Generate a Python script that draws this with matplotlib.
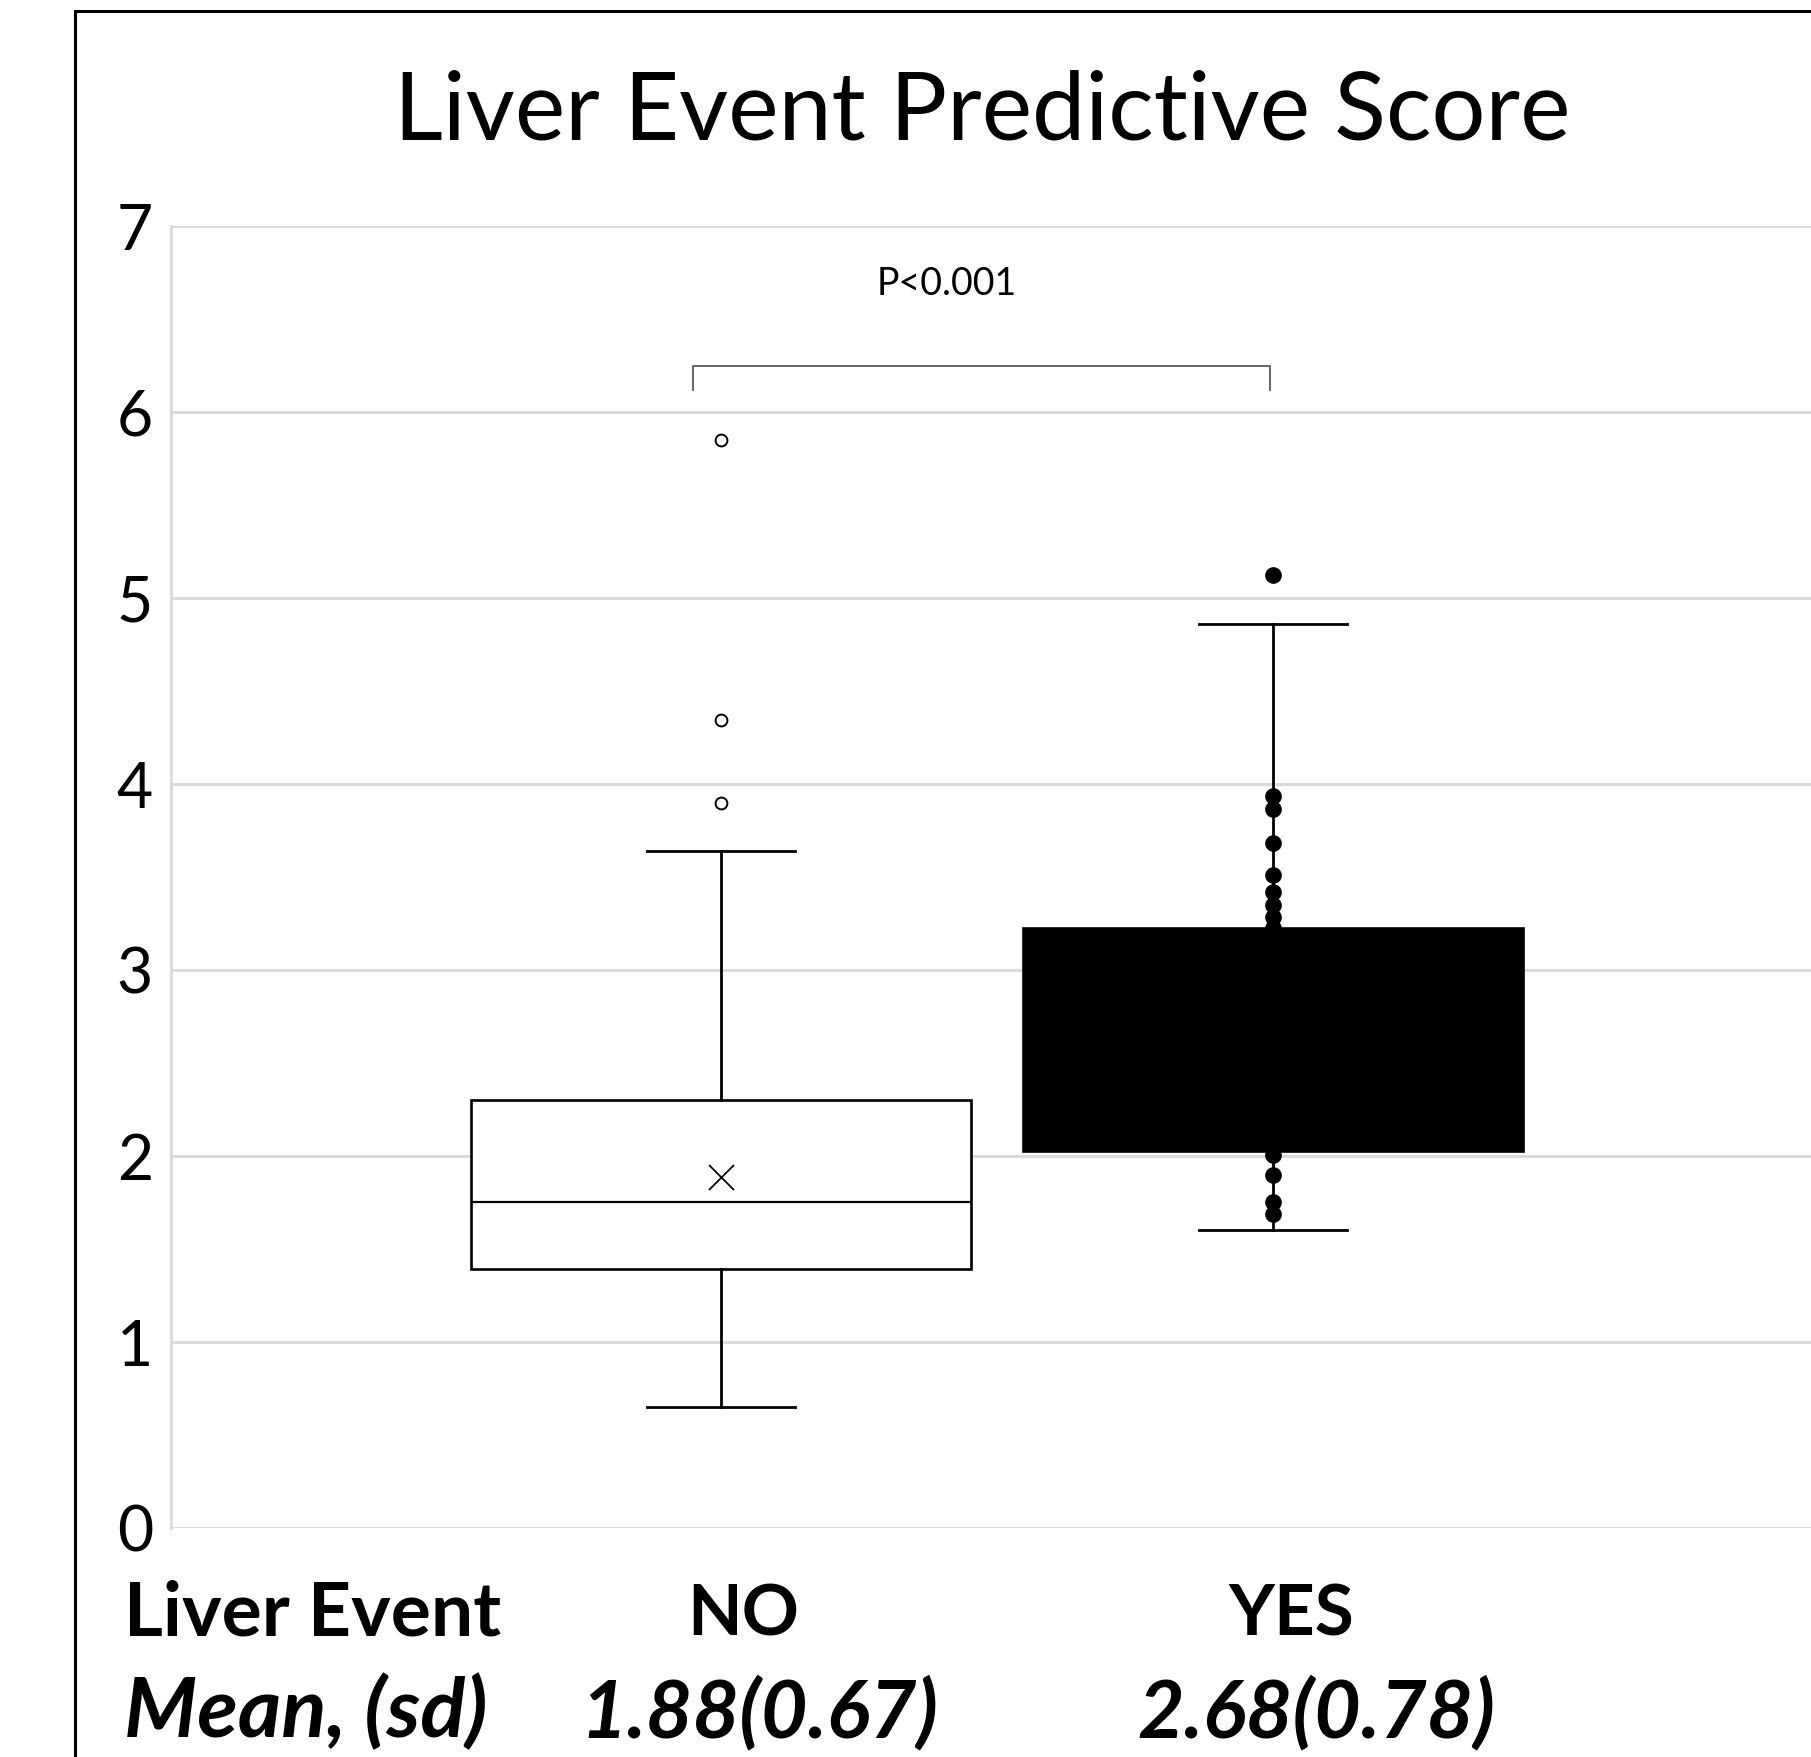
import matplotlib
matplotlib.use('Agg')
import matplotlib.pyplot as plt
from matplotlib.lines import Line2D

W, H = 1811, 1757

# values
groups = ['NO', 'YES']
positions = [1, 2]
q1 = [1.394, 2.027]
median = [1.754, 2.60]
q3 = [2.303, 3.225]
whis_lo = [0.653, 1.603]
whis_hi = [3.640, 4.86]
means = [1.886, 2.68]
fliers_no = [3.900, 4.346, 5.851]
fliers_yes = [5.126]
# inner points of the YES group that show outside the black box
inner_yes = [1.687, 1.755, 1.896, 2.003, 3.225, 3.287, 3.349, 3.418,
             3.509, 3.682, 3.867, 3.936]
mean_labels = ['1.88(0.67)', '2.68(0.78)']
p_text = 'P<0.001'

plt.rcParams['font.family'] = ['Lato', 'DejaVu Sans']

fig = plt.figure(figsize=(W / 100, H / 100), dpi=100)


def fx(x):
    return x / W


def fy(y):
    return 1 - y / H


# axes: x 171..1811 px, y 226..1528 px
ax = fig.add_axes([fx(171), fy(1528), fx(1811) - fx(171), fy(226) - fy(1528)])

stats_no = dict(q1=q1[0], med=median[0], q3=q3[0], whislo=whis_lo[0],
                whishi=whis_hi[0], mean=means[0], fliers=fliers_no)
stats_yes = dict(q1=q1[1], med=median[1], q3=q3[1], whislo=whis_lo[1],
                 whishi=whis_hi[1], mean=means[1], fliers=fliers_yes)

ax.bxp([stats_no], positions=[positions[0]], widths=0.905, capwidths=0.268,
       showmeans=True, patch_artist=True,
       boxprops=dict(facecolor='white', edgecolor='black', linewidth=1.9),
       medianprops=dict(color='black', linewidth=1.6),
       whiskerprops=dict(color='black', linewidth=2),
       capprops=dict(color='black', linewidth=2),
       meanprops=dict(marker='x', markersize=18, markeredgecolor='black',
                      markeredgewidth=1.3),
       flierprops=dict(marker='o', markersize=8.5, markerfacecolor='white',
                       markeredgecolor='black', markeredgewidth=1.4))

ax.bxp([stats_yes], positions=[positions[1]], widths=0.905, capwidths=0.268,
       showmeans=False, patch_artist=True,
       boxprops=dict(facecolor='black', edgecolor='black', linewidth=1.9),
       medianprops=dict(color='black', linewidth=1.6),
       whiskerprops=dict(color='black', linewidth=2),
       capprops=dict(color='black', linewidth=2),
       flierprops=dict(marker='o', markersize=11, markerfacecolor='black',
                       markeredgecolor='black'))
ax.plot([positions[1]] * len(inner_yes), inner_yes, 'o', color='black',
        markersize=11, zorder=5)

ax.set_xlim(0.004, 2.975)
ax.set_ylim(0, 7)
ax.set_yticks(range(0, 8))
ax.set_xticks([])
ax.yaxis.grid(True, color='#d9d9d9', linewidth=2)
ax.set_axisbelow(True)
for s in ['top', 'right', 'bottom']:
    ax.spines[s].set_visible(False)
ax.spines['left'].set_color('#d9d9d9')
ax.spines['left'].set_linewidth(2)
ax.tick_params(axis='y', length=0, pad=13, labelsize=45, labelcolor='black')

# significance bracket
ax.plot([0.949, 0.949, 1.995, 1.995], [6.12, 6.25, 6.25, 6.12],
        color='#595959', linewidth=1.3, solid_joinstyle='round')
fig.text(fx(947), fy(295), p_text, fontsize=27, ha='center', va='baseline')

# title
fig.text(fx(982), fy(139), 'Liver Event Predictive Score', fontsize=68.5,
         ha='center', va='baseline')

# labels under the chart
fig.text(fx(124), fy(1635), 'Liver Event', fontsize=54, fontweight='bold',
         ha='left', va='baseline')
fig.text(fx(743), fy(1635), groups[0], fontsize=51, fontweight='bold',
         ha='center', va='baseline')
fig.text(fx(1291), fy(1635), groups[1], fontsize=51, fontweight='bold',
         ha='center', va='baseline')
fig.text(fx(124), fy(1737), 'Mean, (sd)', fontsize=60, fontweight='bold',
         style='italic', ha='left', va='baseline')
fig.text(fx(759), fy(1737), mean_labels[0], fontsize=58, fontweight='bold',
         style='italic', ha='center', va='baseline')
fig.text(fx(1316), fy(1737), mean_labels[1], fontsize=58, fontweight='bold',
         style='italic', ha='center', va='baseline')

# outer frame (left and top edges visible)
fig.add_artist(Line2D([fx(75), fx(75)], [0, fy(11)], color='black', linewidth=2.2))
fig.add_artist(Line2D([fx(75), 1], [fy(11), fy(11)], color='black', linewidth=2.2))

fig.savefig('out.png', dpi=100, facecolor='white')
